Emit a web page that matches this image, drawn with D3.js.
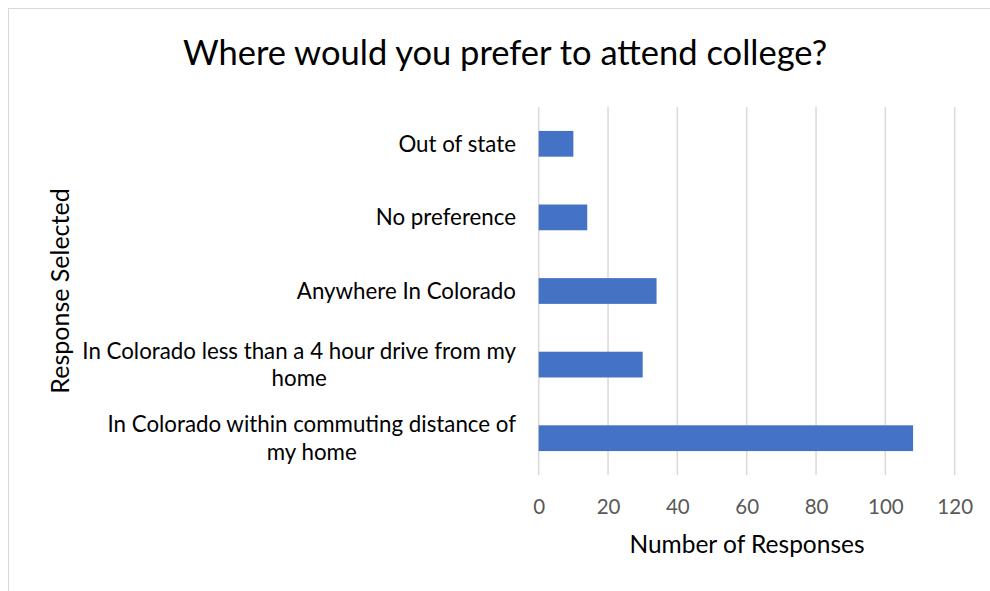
<!DOCTYPE html>
<html>
<head>
<meta charset="utf-8">
<script src="https://cdn.jsdelivr.net/npm/d3@7"></script>
<style>
  html, body { margin: 0; padding: 0; background: #fff; }
  svg { display: block; }
  text { font-family: Lato, "Open Sans", sans-serif; }
</style>
</head>
<body>
<svg id="chart" width="990" height="591"></svg>
<script>
// Survey answers, listed top to bottom
const categories = [
  "Out of state",
  "No preference",
  "Anywhere In Colorado",
  "In Colorado less than a 4 hour drive from my|home",
  "In Colorado within commuting distance of|my home"
];
const responses = [10, 14, 34, 30, 108];
const xTicks = [0, 20, 40, 60, 80, 100, 120];

const titleText = "Where would you prefer to attend college?";
const xTitle = "Number of Responses";
const yTitle = "Response Selected";

const plot = { left: 538.7, right: 954.7, top: 107, bottom: 475 };

const svg = d3.select("#chart");

// outer chart frame
svg.append("rect")
  .attr("x", 8.5).attr("y", 8.5)
  .attr("width", 1000).attr("height", 600)
  .attr("fill", "#fff")
  .attr("stroke", "#d9d9d9").attr("stroke-width", 1);

const x = d3.scaleLinear().domain([0, 120]).range([plot.left, plot.right]);
const y = d3.scaleBand()
  .domain(categories)
  .range([plot.top, plot.bottom])
  .paddingInner(0.65)
  .paddingOuter(0.325);

// vertical gridlines
svg.append("g")
  .selectAll("line")
  .data(xTicks)
  .join("line")
  .attr("x1", d => x(d)).attr("x2", d => x(d))
  .attr("y1", plot.top).attr("y2", plot.bottom)
  .attr("stroke", "#d9d9d9").attr("stroke-width", 1.5);

// bars
svg.append("g")
  .selectAll("rect")
  .data(categories.map((c, i) => ({ c, v: responses[i] })))
  .join("rect")
  .attr("x", x(0))
  .attr("y", d => y(d.c))
  .attr("width", d => x(d.v) - x(0))
  .attr("height", y.bandwidth())
  .attr("fill", "#4472c4");

// x axis tick labels
const xAxis = d3.axisBottom(x).tickValues(xTicks).tickSize(0).tickPadding(0);
const gx = svg.append("g")
  .attr("transform", `translate(0, ${plot.bottom})`)
  .call(xAxis);
gx.select(".domain").remove();
gx.selectAll("text")
  .attr("y", 39)
  .attr("dy", null)
  .attr("font-size", 20.5)
  .attr("font-family", "Lato, 'Open Sans', sans-serif")
  .attr("fill", "#595959");

// category labels: wrapped lines centred on each other, block right-aligned
const labelRight = 516;
const lineGap = 27.5;
const gy = svg.append("g");
categories.forEach(cat => {
  const lines = cat.split("|");
  const cy = y(cat) + y.bandwidth() / 2;
  const t = gy.append("text")
    .attr("font-size", 22.3)
    .attr("fill", "#000")
    .attr("text-anchor", "middle");
  const spans = lines.map((ln, i) =>
    t.append("tspan")
      .attr("y", cy + (i - (lines.length - 1) / 2) * lineGap)
      .attr("dy", "0.35em")
      .text(ln));
  const maxW = d3.max(spans, s => s.node().getComputedTextLength());
  spans.forEach(s => s.attr("x", labelRight - maxW / 2));
});

// title
svg.append("text")
  .attr("x", 505).attr("y", 65)
  .attr("text-anchor", "middle")
  .attr("font-size", 34.5)
  .attr("fill", "#000")
  .text(titleText);

// axis titles
svg.append("text")
  .attr("x", 747).attr("y", 553)
  .attr("text-anchor", "middle")
  .attr("font-size", 24.5)
  .attr("fill", "#000")
  .text(xTitle);

svg.append("text")
  .attr("transform", `translate(69, 291) rotate(-90)`)
  .attr("text-anchor", "middle")
  .attr("font-size", 25)
  .attr("fill", "#000")
  .text(yTitle);
</script>
</body>
</html>
